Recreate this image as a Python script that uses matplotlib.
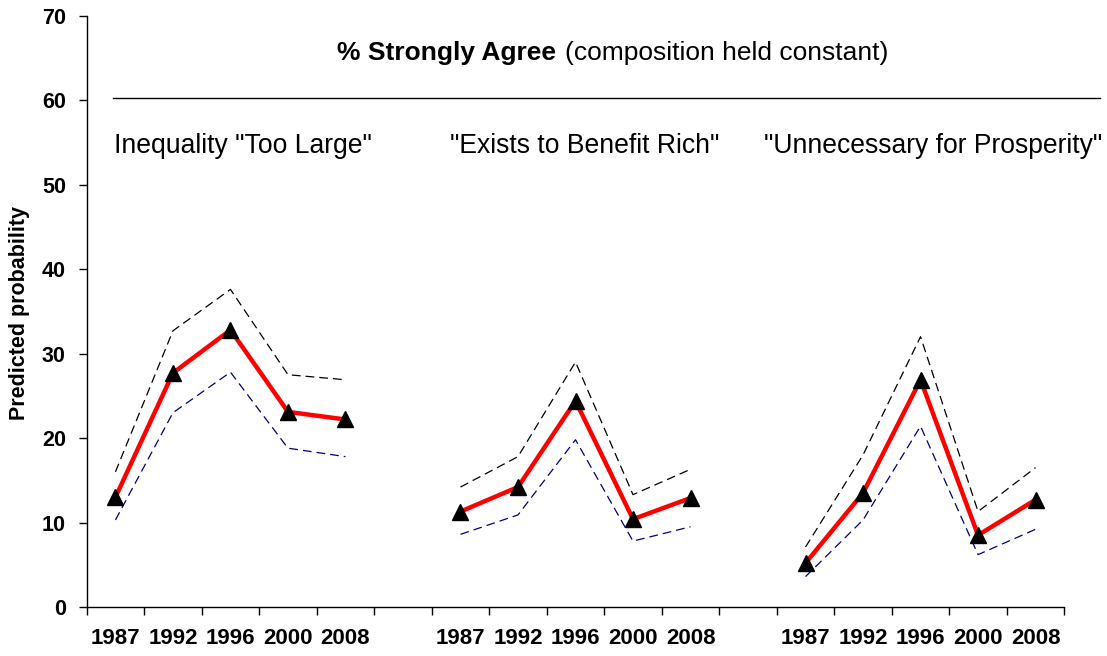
import matplotlib
matplotlib.use('Agg')
import matplotlib.pyplot as plt
from matplotlib.lines import Line2D
import numpy as np

plt.rcParams['font.family'] = ['Liberation Sans', 'DejaVu Sans']

# Data: predicted probability (%) with upper / lower bounds
years = ['1987', '1992', '1996', '2000', '2008']
panels = ['Inequality "Too Large"', '"Exists to Benefit Rich"', '"Unnecessary for Prosperity"']

too_large = [13.0, 27.7, 32.8, 23.1, 22.2]
too_large_hi = [16.0, 32.7, 37.6, 27.5, 26.9]
too_large_lo = [10.3, 23.0, 27.8, 18.8, 17.8]

benefit_rich = [11.3, 14.2, 24.4, 10.4, 12.9]
benefit_rich_hi = [14.2, 17.8, 29.0, 13.3, 16.3]
benefit_rich_lo = [8.6, 10.9, 19.8, 7.8, 9.5]

unnecessary = [5.2, 13.5, 26.9, 8.5, 12.7]
unnecessary_hi = [7.1, 18.0, 32.0, 11.3, 16.5]
unnecessary_lo = [3.6, 10.3, 21.4, 6.2, 9.2]

groups = [
    (too_large, too_large_hi, too_large_lo),
    (benefit_rich, benefit_rich_hi, benefit_rich_lo),
    (unnecessary, unnecessary_hi, unnecessary_lo),
]

W, H = 1107, 656
fig = plt.figure(figsize=(W / 100, H / 100), dpi=100)
ax = fig.add_axes([86.7 / W, 1 - 607 / H, (1064.3 - 86.7) / W, (607 - 15.7) / H])

# 5 years per group, one empty slot between groups -> 17 categories
n_slots = 17
tick_labels = []
for g, (mid, hi, lo) in enumerate(groups):
    start = g * 6
    x = np.arange(start, start + len(years)) + 0.5
    ax.plot(x, hi, color='black', lw=0.9, dashes=(7, 4))
    ax.plot(x, lo, color='#000080', lw=0.9, dashes=(7, 4))
    ax.plot(x, mid, color='red', lw=3.2, marker='^', markersize=11,
            markerfacecolor='black', markeredgecolor='black', zorder=5)
    tick_labels += years
    if g < 2:
        tick_labels.append('')

ax.set_xlim(0, n_slots)
ax.set_ylim(0, 70)
ax.set_xticks(np.arange(0, n_slots + 1))
ax.set_xticklabels([])
ax.set_xticks(np.arange(n_slots) + 0.5, minor=True)
ax.set_xticklabels(tick_labels, minor=True, fontsize=16, fontweight='bold')
ax.tick_params(axis='x', which='major', direction='out', length=6, width=1)
ax.tick_params(axis='x', which='minor', length=0, pad=15)
ax.set_yticks(np.arange(0, 71, 10))
ax.tick_params(axis='y', direction='out', length=6, width=1, pad=9, labelsize=15.5)
for lab in ax.get_yticklabels():
    lab.set_fontweight('bold')

for side in ['top', 'right']:
    ax.spines[side].set_visible(False)
for side in ['left', 'bottom']:
    ax.spines[side].set_linewidth(1)

fig.text(20 / W, 1 - 313 / H, 'Predicted probability', rotation=90,
         ha='center', va='center', fontsize=15.5, fontweight='bold')

# Header and separator line
fig.text(337 / W, 1 - 53 / H, '% Strongly Agree', ha='left', va='center',
         fontsize=19, fontweight='bold')
fig.text(565 / W, 1 - 53 / H, '(composition held constant)', ha='left', va='center',
         fontsize=19)
fig.add_artist(Line2D([113 / W, 1100 / W], [1 - 98 / H, 1 - 98 / H],
                      color='black', lw=1))

for name, xl in zip(panels, [114, 450, 764]):
    fig.text(xl / W, 1 - 146 / H, name, ha='left', va='center', fontsize=19.1)

fig.savefig('out.png', dpi=100)
